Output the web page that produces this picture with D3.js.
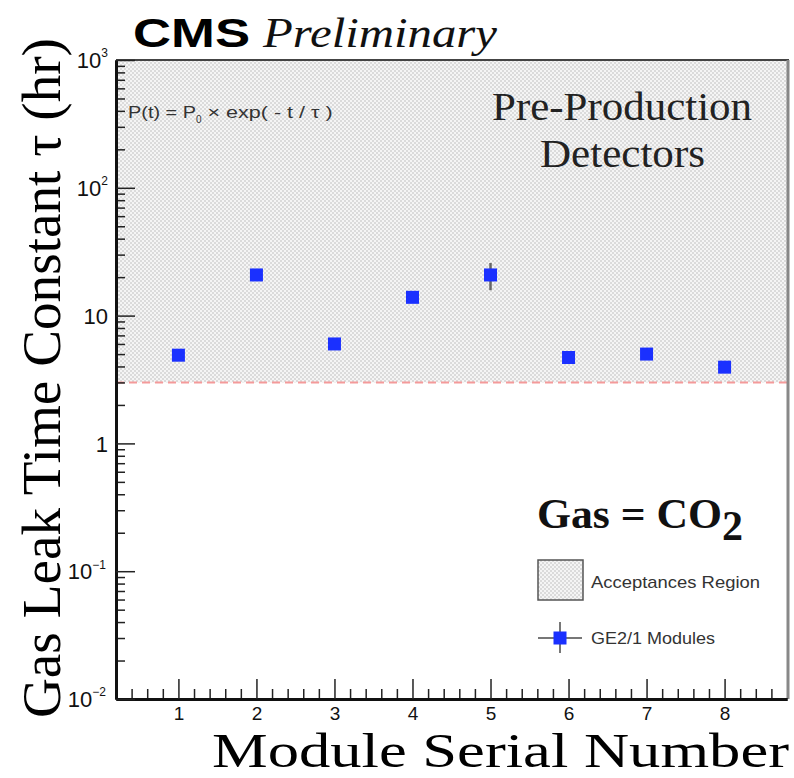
<!DOCTYPE html>
<html><head><meta charset="utf-8">
<script src="https://cdn.jsdelivr.net/npm/d3@7"></script>
<style>body{margin:0;background:#fff}svg{display:block}</style></head>
<body>
<script>
// ---- data ----
const modules = [1, 2, 3, 4, 5, 6, 7, 8];
const tau = [4.9, 20.8, 6.0, 13.9, 20.8, 4.7, 5.0, 3.95];
const tauErr = [0.3, 1.0, 0.3, 0.6, 5.0, 0.3, 0.3, 0.3];
const threshold = 3;
const regionTop = 1000;
const xTicks = [1, 2, 3, 4, 5, 6, 7, 8];
const yTickExps = [-2, -1, 0, 1, 2, 3];
const yTickLabels = [["10", "\u22122"], ["10", "\u22121"], ["1", ""], ["10", ""], ["10", "2"], ["10", "3"]];

const W = 794, H = 778;
const svg = d3.select("body").append("svg").attr("width", W).attr("height", H);

const x = d3.scaleLinear().domain([0.2, 8.8]).range([116, 787]);
const y = d3.scaleLog().domain([0.01, 1000]).range([699, 60]);

// pattern
const defs = svg.append("defs");
const pat = defs.append("pattern").attr("id", "hatch").attr("patternUnits", "userSpaceOnUse")
  .attr("width", 4).attr("height", 4);
pat.append("rect").attr("width", 4).attr("height", 4).attr("fill", "#f5f5f5");
pat.append("rect").attr("width", 2).attr("height", 2).attr("fill", "#dbdbdb");
pat.append("rect").attr("x", 2).attr("y", 2).attr("width", 2).attr("height", 2).attr("fill", "#dbdbdb");

// acceptance region
svg.append("rect")
  .attr("x", x(0.2)).attr("y", y(regionTop))
  .attr("width", x(8.8) - x(0.2)).attr("height", y(threshold) - y(regionTop))
  .attr("fill", "url(#hatch)");

// threshold line
svg.append("line")
  .attr("x1", x(0.2)).attr("x2", x(8.8)).attr("y1", y(threshold)).attr("y2", y(threshold))
  .attr("stroke", "#f49a9a").attr("stroke-width", 2).attr("stroke-dasharray", "8,5");

// frame top / right
svg.append("line").attr("x1", 116).attr("x2", 789).attr("y1", y(1000)).attr("y2", y(1000))
  .attr("stroke", "#444").attr("stroke-width", 2);
svg.append("line").attr("x1", 788).attr("x2", 788).attr("y1", y(1000)).attr("y2", y(0.01))
  .attr("stroke", "#888").attr("stroke-width", 3);

// x axis
const xMinor = d3.range(2, 44).map(i => i / 5).filter(v => Math.abs(v - Math.round(v)) > 1e-6);
const gxMinor = svg.append("g").attr("transform", `translate(0,${y(0.01)})`)
  .call(d3.axisBottom(x).tickValues(xMinor).tickSizeInner(-10).tickSizeOuter(0).tickFormat(""));
const gx = svg.append("g").attr("transform", `translate(0,${y(0.01)})`)
  .call(d3.axisBottom(x).tickValues(xTicks).tickSizeInner(-20).tickSizeOuter(0).tickFormat(d3.format("d")).tickPadding(8));
[gxMinor, gx].forEach(g => {
  g.selectAll(".tick line").attr("stroke", "#222").attr("stroke-width", 1.5);
  g.select(".domain").attr("stroke", "#111").attr("stroke-width", 3);
});
gx.selectAll(".tick text").attr("font-family", "Liberation Sans, Arial, sans-serif").attr("font-size", 19).attr("fill", "#111");

// y axis
const yMinor = [];
yTickExps.slice(0, -1).forEach(e => { for (let k = 2; k <= 9; k++) yMinor.push(k * Math.pow(10, e)); });
const yMajor = yTickExps.map(e => Math.pow(10, e));
const gyMinor = svg.append("g").attr("transform", `translate(${x(0.2)},0)`)
  .call(d3.axisLeft(y).tickValues(yMinor).tickSizeInner(-9).tickSizeOuter(0).tickFormat(""));
const gy = svg.append("g").attr("transform", `translate(${x(0.2)},0)`)
  .call(d3.axisLeft(y).tickValues(yMajor).tickSizeInner(-19).tickSizeOuter(0).tickFormat(""));
[gyMinor, gy].forEach(g => {
  g.selectAll(".tick line").attr("stroke", "#222").attr("stroke-width", 1.5);
  g.select(".domain").attr("stroke", "#111").attr("stroke-width", 3);
});
gy.selectAll(".tick").each(function (d, i) {
  const lab = yTickLabels[i];
  const t = d3.select(this).append("text")
    .attr("x", -8).attr("dy", "0.35em").attr("text-anchor", "end")
    .attr("font-family", "Liberation Sans, Arial, sans-serif").attr("font-size", 22).attr("fill", "#111");
  if (lab[1]) {
    t.attr("x", lab[1].length > 1 ? -10 : -8);
    t.append("tspan").text(lab[0]);
    t.append("tspan").attr("font-size", 12).attr("dy", "-0.9em").text(lab[1]);
  } else {
    t.text(lab[0]);
  }
});

// points
const pts = modules.map((m, i) => ({ m, v: tau[i], e: tauErr[i] }));
svg.append("g").selectAll("line").data(pts).join("line")
  .attr("x1", d => x(d.m)).attr("x2", d => x(d.m))
  .attr("y1", d => y(d.v + d.e)).attr("y2", d => y(d.v - d.e))
  .attr("stroke", "#666").attr("stroke-width", 2.5);
svg.append("g").selectAll("rect").data(pts).join("rect")
  .attr("x", d => x(d.m) - 6.5).attr("y", d => y(d.v) - 6.5)
  .attr("width", 13).attr("height", 13).attr("fill", "#1a30ff");

// texts
const serif = "Liberation Serif, Times New Roman, serif";
const sans = "Liberation Sans, Arial, sans-serif";
svg.append("text").attr("x", 133).attr("y", 47).attr("font-family", sans).attr("font-weight", 900)
  .attr("font-size", 40).attr("textLength", 117).attr("lengthAdjust", "spacingAndGlyphs").attr("fill", "#000").text("CMS");
svg.append("text").attr("x", 263).attr("y", 47).attr("font-family", serif).attr("font-style", "italic")
  .attr("font-size", 42).attr("textLength", 234).attr("lengthAdjust", "spacingAndGlyphs").attr("fill", "#111").text("Preliminary");

const f = svg.append("text").attr("x", 128).attr("y", 118).attr("font-family", sans).attr("font-size", 16)
  .attr("fill", "#333");
f.append("tspan").attr("textLength", 68).attr("lengthAdjust", "spacingAndGlyphs").text("P(t) = P");
f.append("tspan").attr("font-size", 10).attr("dy", 5).text("0");
f.append("tspan").attr("dy", -5).attr("textLength", 131).attr("lengthAdjust", "spacingAndGlyphs")
  .text(" \u00d7 exp( - t / \u03c4 )");

svg.append("text").attr("x", 492).attr("y", 120).attr("font-family", serif).attr("font-size", 40)
  .attr("textLength", 260).attr("lengthAdjust", "spacingAndGlyphs").attr("fill", "#222").text("Pre-Production");
svg.append("text").attr("x", 540).attr("y", 167).attr("font-family", serif).attr("font-size", 40)
  .attr("textLength", 165).attr("lengthAdjust", "spacingAndGlyphs").attr("fill", "#222").text("Detectors");

const g2 = svg.append("text").attr("x", 537).attr("y", 528).attr("font-family", serif).attr("font-weight", "bold")
  .attr("font-size", 42).attr("fill", "#111");
g2.append("tspan").attr("textLength", 185).attr("lengthAdjust", "spacingAndGlyphs").text("Gas = CO");
g2.append("tspan").attr("dy", 12).text("2");

// legend
svg.append("rect").attr("x", 538).attr("y", 560).attr("width", 45).attr("height", 40)
  .attr("fill", "url(#hatch)").attr("stroke", "#555").attr("stroke-width", 1.5);
svg.append("text").attr("x", 591).attr("y", 588).attr("font-family", sans).attr("font-size", 17)
  .attr("textLength", 169).attr("lengthAdjust", "spacingAndGlyphs").attr("fill", "#333").text("Acceptances Region");
svg.append("line").attr("x1", 538).attr("x2", 582).attr("y1", 638).attr("y2", 638).attr("stroke", "#777").attr("stroke-width", 2);
svg.append("line").attr("x1", 560).attr("x2", 560).attr("y1", 622).attr("y2", 653).attr("stroke", "#777").attr("stroke-width", 2);
svg.append("rect").attr("x", 553.5).attr("y", 631.5).attr("width", 13).attr("height", 13).attr("fill", "#1a30ff");
svg.append("text").attr("x", 591).attr("y", 644).attr("font-family", sans).attr("font-size", 17)
  .attr("textLength", 124).attr("lengthAdjust", "spacingAndGlyphs").attr("fill", "#333").text("GE2/1 Modules");

// axis titles
svg.append("text").attr("x", 789).attr("y", 767).attr("text-anchor", "end").attr("font-family", serif)
  .attr("font-size", 48).attr("textLength", 577).attr("lengthAdjust", "spacingAndGlyphs").attr("fill", "#000")
  .text("Module Serial Number");
svg.append("text").attr("transform", "translate(60,718) rotate(-90)").attr("font-family", serif)
  .attr("font-size", 54).attr("textLength", 680).attr("lengthAdjust", "spacingAndGlyphs").attr("fill", "#000")
  .text("Gas Leak Time Constant \u03c4 (hr)");
</script>
</body></html>
